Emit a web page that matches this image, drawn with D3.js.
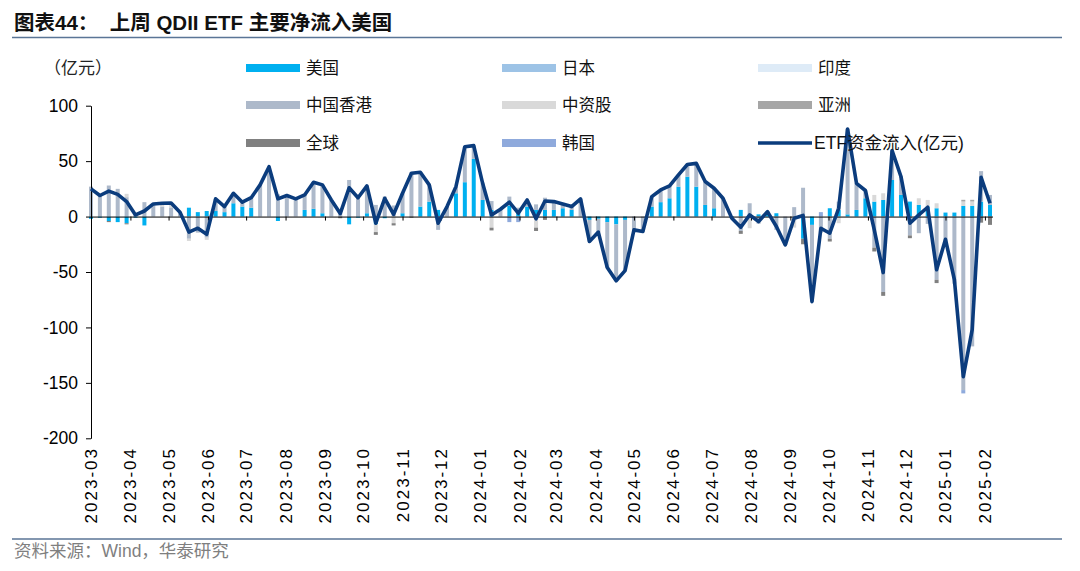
<!DOCTYPE html>
<html><head><meta charset="utf-8">
<script src="https://cdn.jsdelivr.net/npm/d3@7"></script>
<style>
html,body{margin:0;padding:0;background:#fff;}
svg{display:block;}
</style></head><body>
<svg id="c" width="1080" height="571"></svg>
<script>
// ---------- DATA ----------
const seriesNames = ["美国","日本","印度","中国香港","中资股","亚洲","全球","韩国"];
const seriesColors = ["#00b0f0","#9dc3e6","#deebf7","#adb9ca","#d9d9d9","#a6a6a6","#808080","#8faadc"];
const lineName = "ETF资金流入(亿元)";
const unitLabel = "（亿元）";
const titleText = "图表44：  上周 QDII ETF 主要净流入美国";
const sourceText = "资料来源：Wind，华泰研究";
const firstWeek = "2023-03-03";
const weekCount = 102;
const monthLabels = ["2023-03","2023-04","2023-05","2023-06","2023-07","2023-08","2023-09","2023-10","2023-11","2023-12",
  "2024-01","2024-02","2024-03","2024-04","2024-05","2024-06","2024-07","2024-08","2024-09","2024-10","2024-11","2024-12",
  "2025-01","2025-02"];
const yTicks = [100,50,0,-50,-100,-150,-200];

const usFlow = [-2,-1,-4,-5,-6,-1,-8,0,0,0,
  0,8,4,5,5,4,12,9,8,0,
  0,-4,0,0,6,7,3,0,0,-7,
  -1,3,-7,-1.5,0,3,0,9,13.5,6,
  0,21,31,52,15,6,0,10,4,9,
  6,6,6,7.5,6,0,-3,-2,-5,-7,
  -3,0,0,9,13,16.5,27,36,27,10.5,
  7.5,0,0.5,6,0,2,4.5,3,0,0,
  -20,-7.5,0,7.5,6,2,6,16.5,13.5,15,
  33,19.5,13.5,10.5,9,7.5,3.6,3.6,9.6,9.6,
  13.5,10.5];
const jpFlow = [0,0,0,0,0,0,0,0,0,0, 0,0,0,0,0,0,0,0,0,0, 0,0,0,0,0,0,0,0,0,0,
  0,0,0,0,0,0,0,0,0,0, 0,0,0,0,0,0,0,0,0,0, 0,0,0,0,0,0,0,0,0,0,
  0,0,0,0,0,0,0,0,0,0, 0,0,0,0,0,0,0,0,0,0, 0,0,0,0,0,0,0,0,0,0,
  0,0,0,0,0,0,0,0,0,0, 0,0];
const inFlow = [0,0,0,0,0,0,0,0,0,0, 0,0,0,0,0,0,0,0,0,0, 0,0,0,0,0,0,0,0,0,0,
  0,0,0,0,0,0,0,0,0,0, 0,0,0,0,0,0,0,0,0,0, 0,0,0,0,0,0,0,0,0,0,
  0,0,0,0,0,0,0,0,0,0, 0,0,0,0,0,0,0,0,0,0, 0,0,0,0,0,0,0,0,0,0,
  0,0,0,0,0,0,0,0,0,0, 0,0];
const hkFlow = [27,20,28,25,17.5,2.5,13,11.4,9,8.3,
  4,-20,-14.5,-19,11,5,9,4,9,28.6,
  45,20,19,16,13.5,24,25.6,15,4.2,33,
  18,24.7,10.5,18,10,18,40,31,15.1,-12,
  9,6,32,12,15,8,6.6,8,4,6,
  5,11,7.5,3.9,3,16,-19.5,-12,-41,-51,
  -45.7,-12,-13.5,9,11,11.2,10.6,11,21,21.1,
  18.1,16.5,-2,-13,12,-6.5,0,-12,-25.6,8.5,
  26,-69.2,-14.5,-20,7.5,77,24,7,-28,-68,
  26.6,15,-17,-15,-6.6,-57,-24.1,-60.6,-156.5,-117.1,
  27.5,9];
const cnFlow = [0,0,0,0,3,0,0,0,3,4,
  0,-2,0,-2,0,0,0,0,0,0,
  0,0,0,0,0,0,0,0,0,0,
  0,0,-7,0,-6,0,0,0,0,0,
  0,0,0,0,0,-10,0,0,0,0,
  -10,0,0,0,0,0,0,0,0,0,
  0,0,0,0,0,0,0,0,0,0,
  0,0,0,0,-10.5,0,0,0,0,-10,
  0,0,0,0,-6,0,0,0,6,6,
  0,0,0,6,6,4.5,0,0,4,4,
  0,0];
const asiaFlow = [0,0,0,0,0,0,0,0,0,0, 0,0,0,0,0,0,0,0,0,0, 0,0,0,0,0,0,0,0,0,0,
  0,0,0,0,0,0,0,0,0,0, 0,0,0,0,0,0,0,0,0,0, 0,0,0,0,0,0,0,0,0,0,
  0,0,0,0,0,0,0,0,0,0, 0,0,0,0,0,0,0,0,0,0, 0,0,0,0,0,0,0,0,0,0,
  0,1.5,0,0,0,0,0,0,1.5,1.5, 0,0];
const globalFlow = [0,0,-1,0,-1,0,0,0,0,0,
  0,0,0,0,0,0,0,0,0,0,
  0,0,0,0,0,0,0,0,-1.5,0,
  0,0,-2.5,0,-2,0,-1,0,0,0,
  0,0,0,0,0,-2.5,0,0,0,0,
  -3,-3,0,0,0,0,0,0,0,0,
  0,0,0,0,0,0,0,0,0,0,
  0,0,0,-2.6,0,0,0,0,0,0,
  -5,0,0,-2.5,0,0,0,0,-3.5,-3.5,
  0,0,-2.5,0,0,-3,0,0,0,0,
  -5.5,-7.5];
const krFlow = [0,0,0,0,0,0,0,0,0,0, 0,0,0,0,0,0,0,0,0,0, 0,0,0,0,0,0,0,0,0,0,
  0,0,0,0,0,0,0,0,0,0, 0,0,0,0,0,0,0,-5,-5,0,
  0,0,0,0,0,0,0,0,0,0, 0,0,0,0,0,0,0,0,0,0, 0,0,0,0,0,0,0,0,0,0,
  0,0,4,0,0,0,0,0,0,0, 0,0,0,0,0,0,0,0,-3,0, 0,0];
const etfTotal = [25,19,23,20,13.5,1.5,5,11.4,12,12.3,
  4,-14,-10.5,-16,16,9,21,13,17,28.6,
  45,16,19,16,19.5,31,28.6,15,2.7,26,
  17,27.7,-6,16.5,2,21,39,40,28.6,-6,
  9,27,63,64,30,1.5,6.6,13,3,15,
  -2,14,13.5,11.4,9,16,-22.5,-14,-46,-58,
  -48.7,-12,-13.5,18,24,27.7,37.6,47,48,31.6,
  25.6,16.5,-1.5,-9.6,1.5,-4.5,4.5,-9,-25.6,-1.5,
  1,-76.7,-10.5,-15,7.5,79,30,23.5,-12,-50.5,
  59.6,36,-6,1.5,8.4,-48,-20.5,-57,-144.4,-102,
  35.5,12];

// ---------- BUILD ----------
const seriesArrays = [usFlow,jpFlow,inFlow,hkFlow,cnFlow,asiaFlow,globalFlow,krFlow];
const parse = d3.timeParse("%Y-%m-%d");
const start = parse(firstWeek);
const dates = d3.range(weekCount).map(i => d3.timeDay.offset(start, 7*i));
const table = dates.map((d,i) => {
  const o = {date:d};
  seriesNames.forEach((n,k) => o[n] = seriesArrays[k][i]);
  return o;
});

const svg = d3.select("#c");
const FONT_LAT = "'Liberation Sans', Arial, sans-serif";
const FONT_CJK = "'Liberation Sans', 'Noto Sans CJK SC', sans-serif";

const x = d3.scaleTime().domain([dates[0], dates[dates.length-1]]).range([91, 990]);
const y = d3.scaleLinear().domain([-200,100]).range([438.3,105.7]);

// title
svg.append("text").attr("x",14).attr("y",30)
  .style("font-family",FONT_CJK).style("font-weight","bold").style("font-size","20.5px")
  .style("white-space","pre").attr("fill","#111").text(titleText);
svg.append("line").attr("x1",12).attr("x2",1062).attr("y1",37.5).attr("y2",37.5)
  .attr("stroke","#5a7596").attr("stroke-width",1.5);

// unit
svg.append("text").attr("x",44).attr("y",74)
  .style("font-family","'Noto Sans CJK SC', sans-serif").style("font-size","17px")
  .attr("fill","#222").text(unitLabel);

// bars
const stacked = d3.stack().keys(seriesNames).offset(d3.stackOffsetDiverging)(table);
const barW = 4;
const gBars = svg.append("g");
stacked.forEach((layer,k) => {
  gBars.selectAll(null).data(layer.filter(d => d[1]-d[0] !== 0)).enter().append("rect")
    .attr("x", d => x(d.data.date) - barW/2)
    .attr("width", barW)
    .attr("y", d => y(Math.max(d[0],d[1])))
    .attr("height", d => Math.abs(y(d[0]) - y(d[1])))
    .attr("fill", seriesColors[k]);
});

// y axis
const yAxis = d3.axisLeft(y).tickValues(yTicks).tickSize(5).tickSizeOuter(0).tickPadding(8)
  .tickFormat(d => String(d));
const gy = svg.append("g").attr("transform","translate(91,0)").call(yAxis);
gy.select(".domain").attr("stroke","#000");
gy.selectAll(".tick line").attr("stroke","#000");
gy.selectAll(".tick text").style("font-family",FONT_LAT).style("font-size","17.5px").attr("fill","#000");

// x axis (zero line with ticks)
const tickDates = monthLabels.map((_,i) => d3.timeMonth.offset(start, i));
const xAxisZero = d3.axisBottom(x).tickValues(tickDates).tickSize(4).tickSizeOuter(0).tickFormat("");
const gx0 = svg.append("g").attr("transform",`translate(0,${y(0)})`).call(xAxisZero);
gx0.select(".domain").attr("d",`M91,0.5H993`).attr("stroke","#000");
gx0.selectAll(".tick line").attr("stroke","#000");

// x labels at bottom
const xAxisLab = d3.axisBottom(x).tickValues(tickDates).tickSize(0).tickFormat((d,i) => monthLabels[i]);
const gxl = svg.append("g").attr("transform","translate(0,447)").call(xAxisLab);
gxl.select(".domain").remove();
gxl.selectAll(".tick text")
  .attr("transform","rotate(-90)").attr("x",0).attr("y",0).attr("dy",null)
  .attr("text-anchor","end").attr("dominant-baseline","central")
  .style("font-family",FONT_LAT).style("font-size","17px").style("letter-spacing","2px")
  .attr("fill","#000");

// line
const line = d3.line().x((d,i) => x(dates[i])).y(d => y(d));
svg.append("path").datum(etfTotal).attr("d",line)
  .attr("fill","none").attr("stroke","#0b3c7d").attr("stroke-width",3.6)
  .attr("stroke-linejoin","round");

// legend
const colX = [246, 502, 758];
const rowY = [68, 105, 143];
const legendItems = seriesNames.map((n,k) => ({name:n, color:seriesColors[k], type:"bar"}));
legendItems.push({name:lineName, color:"#0b3c7d", type:"line"});
legendItems.forEach((it,i) => {
  const cx = colX[i%3], cy = rowY[Math.floor(i/3)];
  if (it.type === "bar") {
    svg.append("rect").attr("x",cx).attr("y",cy-4).attr("width",54).attr("height",8).attr("fill",it.color);
    svg.append("text").attr("x",cx+60).attr("y",cy+6)
      .style("font-family","'Noto Sans CJK SC', sans-serif").style("font-size","16.5px")
      .attr("fill","#111").text(it.name);
  } else {
    svg.append("line").attr("x1",cx).attr("x2",cx+54).attr("y1",cy).attr("y2",cy)
      .attr("stroke",it.color).attr("stroke-width",3.6);
    svg.append("text").attr("x",cx+56).attr("y",cy+6)
      .style("font-family",FONT_CJK).style("font-size","17.5px")
      .attr("fill","#111").text(it.name);
  }
});

// bottom rule and source
svg.append("line").attr("x1",12).attr("x2",1062).attr("y1",539).attr("y2",539)
  .attr("stroke","#5a7596").attr("stroke-width",1.5);
svg.append("text").attr("x",14).attr("y",557)
  .style("font-family",FONT_CJK).style("font-size","17.5px")
  .attr("fill","#7f7f7f").text(sourceText);
</script>
</body></html>
